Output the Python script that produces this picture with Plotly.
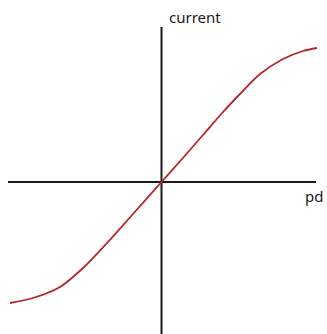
import plotly.graph_objects as go

# curve (origin where the two axes cross)
curve_x = [-151.5, -128.5, -101.5, -78.5, -54.5, -28.5, 0, 20.5, 41.5, 61.5, 78.5, 98.5, 121.5, 141.5, 155.5]
curve_y = [-121, -116, -105, -86, -61, -32, 0, 23, 47, 70, 88, 108, 123, 131, 134]

# hand drawn axes
haxis_x = [-153.5, 154.5]
haxis_y = [0, 0]
vaxis_x = [0, 0]
vaxis_y = [155, -152]

y_label = "current"
x_label = "pd"

fig = go.Figure()
fig.add_trace(go.Scatter(x=haxis_x, y=haxis_y, mode="lines", line=dict(color="#1a1a1a", width=2), hoverinfo="skip"))
fig.add_trace(go.Scatter(x=vaxis_x, y=vaxis_y, mode="lines", line=dict(color="#1a1a1a", width=2), hoverinfo="skip"))
fig.add_trace(go.Scatter(x=curve_x, y=curve_y, mode="lines", line=dict(color="#b5262a", width=1.8, shape="spline", smoothing=0.8)))

fig.add_annotation(x=5, y=165, text=y_label, showarrow=False, xanchor="left", yanchor="middle",
                   font=dict(family="Noto Sans", size=15, color="#1a1a1a"))
fig.add_annotation(x=141, y=-14, text=x_label, showarrow=False, xanchor="left", yanchor="middle",
                   font=dict(family="Noto Sans", size=15, color="#1a1a1a"))

fig.update_layout(width=327, height=334, margin=dict(l=0, r=0, t=0, b=0),
                  plot_bgcolor="white", paper_bgcolor="white", showlegend=False)
fig.update_xaxes(range=[-161.5, 165.5], visible=False)
fig.update_yaxes(range=[-152, 182], visible=False)
fig.write_html("out.html", config={"displayModeBar": False},
               post_script="document.body.style.margin='0';")
